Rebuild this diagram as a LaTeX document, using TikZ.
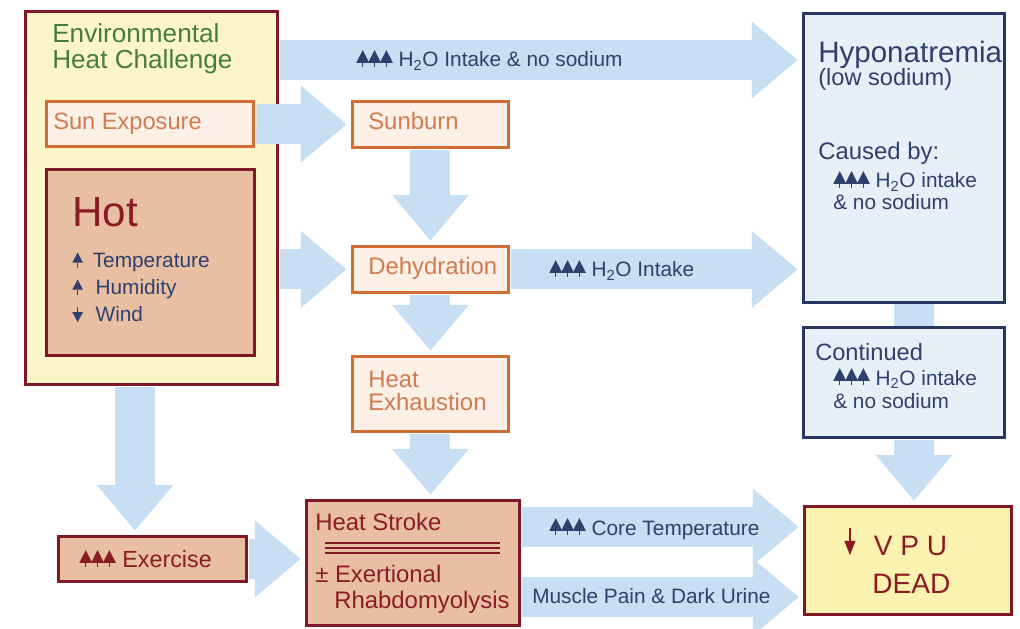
\documentclass[tikz,border=0pt]{standalone}
\usepackage{fontspec}
\setmainfont{Liberation Sans}
\usetikzlibrary{arrows.meta,calc,backgrounds}

\definecolor{envyellow}{RGB}{253,245,202}
\definecolor{deepred}{RGB}{128,24,40}
\definecolor{hotred}{RGB}{140,28,36}
\definecolor{leafgreen}{RGB}{70,125,60}
\definecolor{rustorange}{RGB}{208,108,52}
\definecolor{paleorange}{RGB}{251,239,230}
\definecolor{textorange}{RGB}{206,124,80}
\definecolor{tanfill}{RGB}{233,191,163}
\definecolor{navyline}{RGB}{40,54,100}
\definecolor{navytext}{RGB}{48,64,108}
\definecolor{paleblue}{RGB}{231,239,249}
\definecolor{arrowblue}{RGB}{200,222,243}
\definecolor{vpuyellow}{RGB}{252,242,176}

% small arrow glyphs
\newcommand\upthree{\tikz[baseline=0pt,x=1pt,y=1pt]{\foreach \i in {0,8.4,16.8}{%
  \fill (\i,3) -- (\i+4.6,12) -- (\i+9.2,3) -- cycle;
  \draw[line width=.6pt] (\i+4.6,0) -- (\i+4.6,3);}}}
\newcommand\uparw{\tikz[baseline=0pt,x=1pt,y=1pt]{%
  \fill (0,3.8) -- (3.8,11) -- (7.6,3.8) -- cycle;
  \draw[line width=.8pt] (3.8,0) -- (3.8,3.8);}}
\newcommand\dnarw{\tikz[baseline=0pt,x=1pt,y=1pt]{%
  \fill (0,7) -- (3.8,0) -- (7.6,7) -- cycle;
  \draw[line width=.8pt] (3.8,7) -- (3.8,11);}}
\newcommand\dnvpu{\tikz[baseline=0pt,x=1pt,y=1pt]{%
  \draw[line width=1.3pt] (4,19) -- (4,8);
  \fill (0,10) -- (8,10) -- (4,0) -- cycle;}}

\begin{document}
\begin{tikzpicture}[x=0.025cm, y=-0.025cm,
  fatarrow/.style={line width=1cm, arrowblue, shorten <=1pt, shorten >=3pt,
    -{Triangle[length=1.15cm,width=1.85cm]}},
  fatshaft/.style={line width=1cm, arrowblue},
  framebox/.style={anchor=north west, line width=2pt, inner sep=0pt},
  envbox/.style={framebox, draw=deepred, fill=envyellow},
  orangebox/.style={framebox, draw=rustorange, fill=paleorange},
  tanbox/.style={framebox, draw=deepred, fill=tanfill},
  bluebox/.style={framebox, draw=navyline, fill=paleblue},
  vpubox/.style={framebox, draw=deepred, fill=vpuyellow},
  boxtext/.style={anchor=base west, inner sep=0pt},
  arrowtext/.style={boxtext, text=navytext, font=\fontsize{14.8}{17}\selectfont},
  orangetext/.style={boxtext, text=textorange, font=\fontsize{17}{20}\selectfont},
  bluetext/.style={boxtext, text=navytext, font=\fontsize{17}{20}\selectfont},
  redtext/.style={boxtext, text=hotred, font=\fontsize{17}{20}\selectfont},
]
\useasboundingbox (0,0) rectangle (1020,629);

% outer frame sits below the arrows
\begin{scope}[on background layer]
  \node[envbox, minimum width=6.3cm, minimum height=9.325cm] (env) at (24,10) {};
\end{scope}

% boxes
\node[orangebox, minimum width=5.175cm, minimum height=1.125cm] (sun) at (45,100) {};
\node[tanbox, minimum width=5.2cm, minimum height=4.65cm] (hot) at (45,168) {};
\node[orangebox, minimum width=3.9cm, minimum height=1.15cm] (sunburn) at (351,100) {};
\node[orangebox, minimum width=3.9cm, minimum height=1.15cm] (dehyd) at (351,245) {};
\node[orangebox, minimum width=3.9cm, minimum height=1.875cm] (heatexh) at (351,355) {};
\node[tanbox, minimum width=4.7cm, minimum height=1.125cm] (exercise) at (57,535) {};
\node[tanbox, minimum width=5.325cm, minimum height=3.125cm] (stroke) at (305,499) {};
\node[bluebox, minimum width=5.025cm, minimum height=7.225cm] (hypo) at (802,12) {};
\node[bluebox, minimum width=5.025cm, minimum height=2.75cm] (cont) at (802,326) {};
\node[vpubox, minimum width=5.175cm, minimum height=2.7cm] (vpu) at (803,505) {};

% arrows
\coordinate (rowtop) at (0,60);
\coordinate (rowcore) at (0,527);
\coordinate (rowmus) at (0,597);
\coordinate (colex) at (135,0);
\coordinate (colhy) at (914,0);
\begin{scope}[on background layer]
  \draw[fatarrow] (env.east |- rowtop) -- (hypo.west |- rowtop);
  \draw[fatarrow] (sun.east) -- (sunburn.west);
  \draw[fatarrow] (env.east |- dehyd.west) -- (dehyd.west);
  \draw[fatarrow] (dehyd.east) -- (hypo.west |- dehyd.east);
  \draw[fatarrow] (sunburn.south) -- (dehyd.north);
  \draw[fatarrow] (dehyd.south) -- (heatexh.north);
  \draw[fatarrow] (heatexh.south) -- (stroke.north -| heatexh.south);
  \draw[fatarrow] (env.south -| colex) -- (exercise.north -| colex);
  \draw[fatarrow] (exercise.east) -- (stroke.west |- exercise.east);
  \draw[fatarrow] (stroke.east |- rowcore) -- (vpu.west |- rowcore);
  \draw[fatarrow] (stroke.east |- rowmus) -- (vpu.west |- rowmus);
  \draw[fatshaft] (hypo.south -| colhy) -- (cont.north -| colhy);
  \draw[fatarrow] (cont.south -| colhy) -- (vpu.north -| colhy);
\end{scope}

% environmental heat challenge
\node[anchor=north west, inner sep=0pt, align=left, text=leafgreen, font=\fontsize{18.6}{18.4}\selectfont]
  (envtitle) at ($(env.north west)+(28,13)$) {Environmental\\Heat Challenge};
\node[orangetext, font=\fontsize{16.8}{20}\selectfont] (suntext) at ($(sun.north west)+(8,30)$) {Sun Exposure};
\node[boxtext, text=hotred, font=\fontsize{30}{34}\selectfont] (hottext) at ($(hot.north west)+(27,59)$) {Hot};
\node[arrowtext] (temp) at (72,268) {\uparw\hspace{7pt}Temperature};
\node[arrowtext] (humid) at (72,295) {\uparw\hspace{9pt}Humidity};
\node[arrowtext] (wind) at (72,322) {\dnarw\hspace{9pt}Wind};

% middle column
\node[orangetext] (sunburntext) at ($(sunburn.north west)+(17,30)$) {Sunburn};
\node[orangetext] (dehydtext) at ($(dehyd.north west)+(17,30)$) {Dehydration};
\node[orangetext] (heattext) at ($(heatexh.north west)+(17,32)$) {Heat};
\node[orangetext] (exhtext) at ($(heatexh.north west)+(17,55)$) {Exhaustion};
\node[redtext, font=\fontsize{16.6}{20}\selectfont] (extext) at ($(exercise.north west)+(22,32)$) {\upthree\ Exercise};

% heat stroke
\node[redtext] (stroketext) at ($(stroke.north west)+(10,31)$) {Heat Stroke};
\foreach \dy in {44,49,54}
  \draw[deepred, line width=1.2pt] ($(stroke.north west)+(20,\dy)$) -- ($(stroke.north east)+(-21,\dy)$);
\node[redtext] (rhabdoa) at ($(stroke.north west)+(10,83)$) {± Exertional};
\node[redtext] (rhabdob) at ($(stroke.north west)+(29,109)$) {Rhabdomyolysis};

% arrow texts
\node[arrowtext] (toplabel) at (356,67) {\upthree\ H\textsubscript{2}O Intake \& no sodium};
\node[arrowtext] (midlabel) at (549,277) {\upthree\ H\textsubscript{2}O Intake};
\node[arrowtext] (corelabel) at (549,535) {\upthree\ Core Temperature};
\node[arrowtext] (muslabel) at (532,603) {Muscle Pain \& Dark Urine};

% hyponatremia
\node[bluetext, font=\fontsize{21}{24}\selectfont] (hypotext) at ($(hypo.north west)+(16,51)$) {Hyponatremia};
\node[bluetext, font=\fontsize{16.8}{20}\selectfont] (lowna) at ($(hypo.north west)+(16,74)$) {(low sodium)};
\node[bluetext] (causedby) at ($(hypo.north west)+(16,148)$) {Caused by:};
\node[arrowtext] (causeda) at ($(hypo.north west)+(31,176)$) {\upthree\ H\textsubscript{2}O intake};
\node[arrowtext] (causedb) at ($(hypo.north west)+(31,198)$) {\& no sodium};
\node[bluetext, font=\fontsize{16.8}{20}\selectfont] (conttext) at ($(cont.north west)+(13,34)$) {Continued};
\node[arrowtext] (conta) at ($(cont.north west)+(31,59)$) {\upthree\ H\textsubscript{2}O intake};
\node[arrowtext] (contb) at ($(cont.north west)+(31,82)$) {\& no sodium};

% outcome
\node[boxtext, text=hotred, font=\fontsize{20}{24}\selectfont] (vputext) at ($(vpu.north west)+(41,50)$) {\dnvpu\hspace{13pt}V P U};
\node[boxtext, text=hotred, font=\fontsize{20}{24}\selectfont] (deadtext) at ($(vpu.north west)+(69,88)$) {DEAD};
\end{tikzpicture}
\end{document}
